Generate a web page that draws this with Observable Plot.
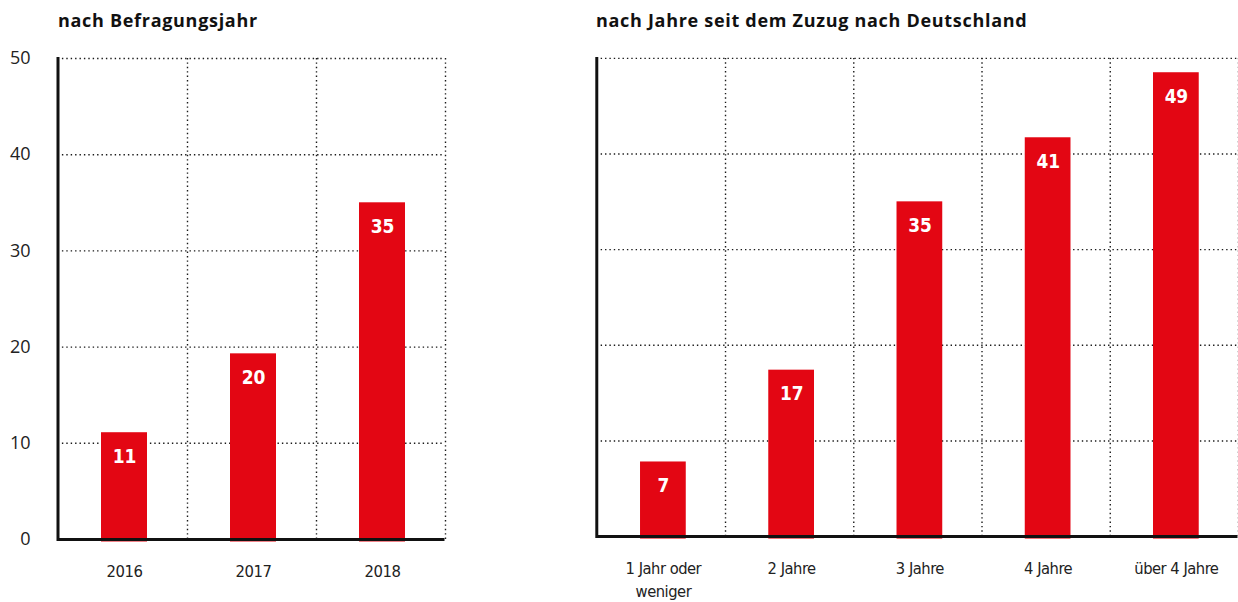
<!DOCTYPE html>
<html>
<head>
<meta charset="utf-8">
<script src="https://cdn.jsdelivr.net/npm/d3@7"></script>
<script src="https://cdn.jsdelivr.net/npm/@observablehq/plot@0.6"></script>
<style>
  html, body { margin: 0; padding: 0; background: #fff; overflow: hidden; }
  #wrap { position: relative; width: 1238px; height: 602px; overflow: hidden; }
  .title { position: absolute; font-family: "Open Sans", sans-serif; font-weight: 700; font-size: 18px; letter-spacing: 0.7px; line-height: 20px; color: #111; white-space: nowrap; }
  .panel { position: absolute; top: 40px; }
  .panel svg { overflow: visible; }
  .panel svg g[aria-label="x-axis tick label"] text { letter-spacing: -0.5px; }
  .panel svg g.vlabels text { letter-spacing: -0.2px; }
</style>
</head>
<body>
<div id="wrap">
  <div class="title" id="t1" style="left:58px; top:10px;"></div>
  <div class="title" id="t2" style="left:596px; top:10px;"></div>
  <div class="panel" id="p1" style="left:0px;"></div>
  <div class="panel" id="p2" style="left:560px;"></div>
</div>
<script>
// ---- data ----
const titleLeft = "nach Befragungsjahr";
const titleRight = "nach Jahre seit dem Zuzug nach Deutschland";

const years = ["2016", "2017", "2018"];
const yearValues = [11.1, 19.3, 35.0];
const yearLabels = ["11", "20", "35"];

const zuzugCats = ["1 Jahr oder weniger", "2 Jahre", "3 Jahre", "4 Jahre", "über 4 Jahre"];
const zuzugTickLabels = ["1 Jahr oder\nweniger", "2 Jahre", "3 Jahre", "4 Jahre", "über 4 Jahre"];
const zuzugValues = [7.8, 17.4, 35.0, 41.7, 48.5];
const zuzugLabels = ["7", "17", "35", "41", "49"];

const yTicks = [0, 10, 20, 30, 40, 50];

// ---- styles ----
const red = "#e30613";
const narrow = "'Liberation Sans Narrow','DejaVu Sans Condensed',sans-serif";
const regular = "'Open Sans',sans-serif";
const dots = {stroke: "#1a1a1a", strokeOpacity: 1, strokeWidth: 1.4, strokeDasharray: "1.4,3"};

document.getElementById("t1").textContent = titleLeft;
document.getElementById("t2").textContent = titleRight;

function panel({cats, values, labels, tickLabels, width, marginLeft, marginRight, showY, insetLeft, insetRight}) {
  const height = 562, marginTop = 18, marginBottom = 63;
  const step = (width - marginLeft - marginRight) / cats.length;
  const fmt = d => tickLabels[cats.indexOf(d)];
  const barDx = (insetLeft - insetRight) / 2;
  return Plot.plot({
    width, height, marginLeft, marginRight, marginTop, marginBottom,
    style: {fontFamily: narrow, background: "transparent", overflow: "visible"},
    x: {domain: cats, padding: 0},
    y: {domain: [0, 50], axis: showY ? undefined : null},
    marks: [
      Plot.gridY(yTicks, dots),
      Plot.ruleX(cats, {x: d => d, dx: step / 2, y1: 0, y2: 50, ...dots}),
      Plot.barY(cats, {x: cats, y: values, fill: red, insetLeft, insetRight, insetBottom: -2.5}),
      Plot.ruleY([0], {stroke: "#111", strokeWidth: 3}),
      Plot.frame({anchor: "left", stroke: "#111", strokeWidth: 3}),
      Plot.text(cats, {x: cats, y: values, text: labels, dy: 24, dx: barDx, fill: "#fff",
        fontWeight: "bold", fontSize: 19, fontFamily: narrow, className: "vlabels"}),
      Plot.axisX({tickSize: 0, tickPadding: 21, fontSize: 16.5, lineHeight: 1.4, dx: barDx,
        tickFormat: fmt, fill: "#222", fontFamily: narrow}),
      showY
        ? Plot.axisY(yTicks, {tickSize: 0, tickPadding: 27.5, fontSize: 18, fill: "#222", fontFamily: regular})
        : null
    ]
  });
}

document.getElementById("p1").append(panel({
  cats: years, values: yearValues, labels: yearLabels, tickLabels: years,
  width: 450, marginLeft: 57.5, marginRight: 5.5, showY: true, insetLeft: 43, insetRight: 40
}));
document.getElementById("p2").append(panel({
  cats: zuzugCats, values: zuzugValues, labels: zuzugLabels, tickLabels: zuzugTickLabels,
  width: 682, marginLeft: 36.5, marginRight: 0.5, showY: false, insetLeft: 43.5, insetRight: 39.5
}));
</script>
</body>
</html>
